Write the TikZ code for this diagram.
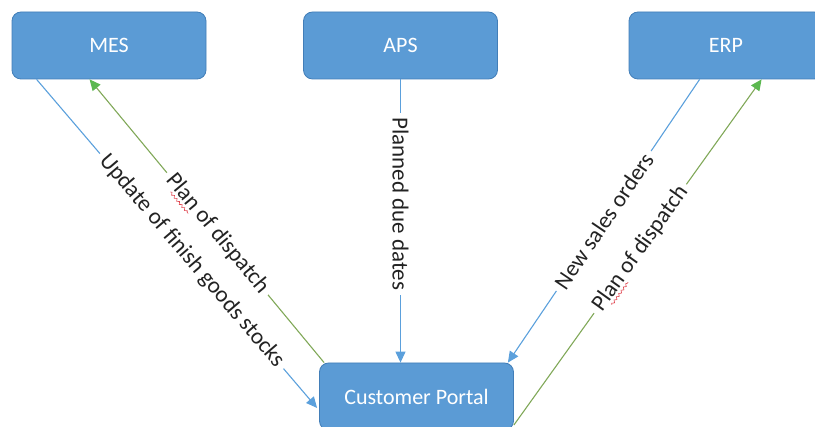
\documentclass[tikz,border=0pt]{standalone}
\usepackage{fontspec}
\setmainfont{Carlito}
\usetikzlibrary{arrows.meta,calc,decorations.pathmorphing}

\definecolor{boxfill}{RGB}{91,155,213}
\definecolor{boxline}{RGB}{66,126,184}
\definecolor{flowblue}{RGB}{91,160,220}
\definecolor{flowgreen}{RGB}{128,168,88}
\definecolor{tipgreen}{RGB}{92,184,80}
\definecolor{labeltext}{RGB}{35,35,35}
\definecolor{spellred}{RGB}{225,70,80}

\begin{document}
\begin{tikzpicture}[x=1pt,y=-1pt,
  system/.style={draw=boxline, line width=0.8pt, fill=boxfill, rounded corners=9pt,
    minimum width=194pt, minimum height=67pt, inner sep=0pt,
    text=white, font=\fontsize{22}{26}\selectfont},
  flow label/.style={fill=white, text=labeltext, inner xsep=5pt, inner ysep=1pt,
    font=\fontsize{23}{27}\selectfont},
  blueflow/.style={draw=flowblue, line width=1.1pt,
    -{Triangle[length=11pt,width=10pt]}},
  greenflow/.style={draw=flowgreen, line width=1.1pt,
    -{Triangle[length=11pt,width=10pt,color=tipgreen]}},
  spell wave/.style={draw=spellred, line width=0.6pt, decorate,
    decoration={snake, amplitude=1.1pt, segment length=4pt}}]
\useasboundingbox (0,0) rectangle (815,427);

% systems
\node[system] (mes)    at (109,45.5)    {MES};
\node[system] (aps)    at (400.5,45.5)  {APS};
\node[system] (erp)    at (726,45.5)    {ERP};
\node[system] (portal) at (416.5,396.5) {Customer Portal};

% data flows
\draw[blueflow] ($(mes.south west)+(25,0)$)
  -- node[flow label, sloped, pos=0.553] {Update of finish goods stocks}
  ($(portal.west)+(-2,11.5)$);
\draw[greenflow] ($(portal.north west)+(5,0)$)
  -- node[flow label, sloped, pos=0.455] (dispatchA) {Plan of dispatch}
  ($(mes.south west)+(78,0)$);
\draw[blueflow] (aps.south)
  -- node[flow label, rotate=-90, pos=0.44] {Planned due dates}
  (aps.south |- portal.north);
\draw[blueflow] ($(erp.south west)+(71,0)$)
  -- node[flow label, sloped, pos=0.5] {New sales orders}
  ($(portal.north east)+(-6,0)$);
\draw[greenflow] ($(portal.east)+(0,28.5)$)
  -- node[flow label, sloped, pos=0.51] (dispatchB) {Plan of dispatch}
  ($(erp.south west)+(133,0)$);

% spell-check marks under "lan"
\foreach \lbl in {dispatchA,dispatchB}{
  \draw[spell wave]
    ($($(\lbl.base west)!0.11!(\lbl.base east)$)!3.5pt!-90:(\lbl.base east)$)
    -- ($($(\lbl.base west)!0.285!(\lbl.base east)$)!3.5pt!90:(\lbl.base west)$);
}
\end{tikzpicture}
\end{document}
